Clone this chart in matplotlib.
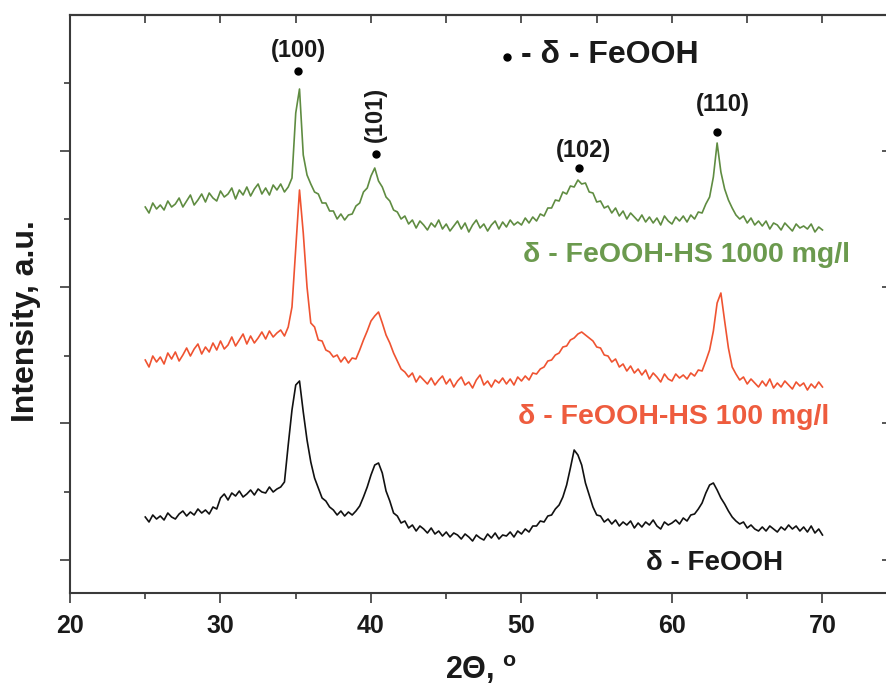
import numpy as np
import matplotlib
matplotlib.use("Agg")
import matplotlib.pyplot as plt
from matplotlib.ticker import FixedLocator, MultipleLocator

plt.rcParams['font.family'] = ['Liberation Sans', 'DejaVu Sans']
plt.rcParams['font.weight'] = 'bold'
plt.rcParams['mathtext.fontset'] = 'custom'
plt.rcParams['mathtext.rm'] = 'Liberation Sans:bold'

# scan angle, 0.25 deg step from 25 to 70
two_theta = np.arange(25.0, 70.001, 0.25)

# intensities (a.u.), one row per degree
fe_hs_1000 = [
    386, 380, 390, 384,  388, 383, 392, 386,  389, 395, 386, 392,
    398, 388, 393, 399,  391, 400, 395, 392,  402, 396, 399, 405,
    394, 403, 398, 406,  397, 404, 409, 399,  405, 398, 408, 403,
    409, 401, 406, 415,  480, 504, 438, 418,  409, 401, 399, 390,
    390, 382, 382, 374,  379, 373, 378, 379,  387, 390, 401, 405,
    417, 425, 412, 406,  396, 392, 383, 381,  374, 377, 369, 373,
    365, 372, 368, 363,  370, 366, 373, 364,  369, 362, 367, 372,
    364, 370, 361, 368,  373, 365, 369, 362,  368, 372, 364, 371,
    366, 373, 368, 371,  368, 375, 370, 376,  372, 379, 377, 385,
    385, 393, 392, 401,  399, 407, 406, 413,  409, 410, 401, 400,
    391, 392, 385, 387,  380, 385, 377, 382,  374, 380, 376, 372,
    378, 371, 376, 370,  375, 368, 377, 372,  369, 376, 372, 377,
    371, 378, 374, 381,  380, 389, 396, 416,  450, 421, 404, 393,
    385, 378, 374, 377,  370, 375, 368, 372,  367, 372, 364, 370,
    368, 363, 370, 366,  362, 369, 365, 367,  364, 369, 361, 366,
    363]

fe_hs_100 = [
    233, 226, 237, 231,  236, 229, 240, 234,  241, 232, 238, 245,
    237, 244, 249, 239,  246, 241, 250, 243,  252, 244, 248, 256,
    247, 253, 259, 249,  257, 250, 255, 261,  254, 262, 256, 260,
    263, 257, 266, 286,  345, 403, 360, 306,  270, 266, 253, 252,
    243, 241, 236, 238,  231, 236, 230, 235,  234, 243, 253, 262,
    272, 277, 281, 270,  258, 250, 240, 232,  224, 221, 216, 220,
    211, 217, 213, 209,  215, 208, 213, 217,  209, 214, 206, 212,
    216, 208, 211, 205,  213, 218, 208, 212,  206, 213, 210, 215,
    209, 214, 208, 216,  212, 217, 213, 220,  219, 224, 226, 232,
    233, 238, 240, 246,  247, 253, 255, 259,  261, 258, 255, 252,
    246, 245, 238, 237,  231, 234, 226, 229,  222, 227, 220, 224,
    218, 223, 214, 220,  216, 211, 219, 214,  212, 219, 215, 218,
    214, 220, 217, 223,  222, 232, 243, 262,  290, 300, 272, 245,
    226, 219, 213, 216,  209, 214, 210, 206,  212, 207, 214, 205,
    210, 206, 212, 208,  204, 211, 207, 210,  203, 209, 205, 211,
    206]

fe_ooh = [
    76, 71, 78, 74,  77, 73, 80, 76,  74, 79, 82, 77,
    81, 78, 84, 80,  83, 79, 86, 84,  95, 99, 93, 100,
    97, 102, 96, 99,  103, 98, 104, 101,  100, 106, 101, 104,
    106, 111, 148, 183,  208, 212, 181, 153,  131, 115, 105, 95,
    92, 86, 83, 78,  82, 77, 81, 78,  82, 87, 96, 106,
    118, 128, 130, 120,  102, 92, 80, 77,  70, 72, 65, 68,
    62, 67, 64, 60,  65, 59, 62, 57,  61, 56, 60, 58,
    54, 59, 56, 52,  58, 55, 53, 59,  55, 60, 54, 58,
    57, 61, 56, 62,  59, 64, 61, 67,  67, 72, 71, 77,
    78, 84, 88, 96,  108, 125, 143, 138,  128, 110, 98, 86,
    78, 77, 71, 74,  69, 73, 67, 71,  68, 72, 65, 70,
    66, 71, 68, 73,  67, 64, 71, 68,  70, 73, 69, 75,
    72, 78, 79, 84,  90, 100, 108, 110,  103, 95, 89, 82,
    76, 72, 69, 71,  65, 68, 64, 62,  66, 62, 67, 64,
    61, 66, 63, 68,  64, 67, 62, 66,  61, 67, 60, 64,
    58]

# reflections of delta-FeOOH
hkl = ['(100)', '(101)', '(102)', '(110)']
hkl_pos = [35.15, 40.3, 53.8, 63.0]
dot_y = [522, 439, 425, 461]
hkl_x = [35.2, 40.3, 54.15, 63.4]
hkl_y = [542, 479, 443, 489]

green = '#5f8c41'
red = '#ef5331'
axcol = '#3a3a3a'
txt = '#1a1a1a'

fig = plt.figure(figsize=(8.87, 6.88), dpi=100)
ax = fig.add_axes([70/887, 95/688, 822/887, 578/688])

ax.plot(two_theta, fe_hs_1000, color=green, lw=1.2)
ax.plot(two_theta, fe_hs_100, color=red, lw=1.2)
ax.plot(two_theta, fe_ooh, color='#111111', lw=1.2)

ax.plot(hkl_pos, dot_y, 'o', color='black', ms=5)
for i in range(len(hkl)):
    rot = 90 if hkl[i] == '(101)' else 0
    ax.text(hkl_x[i], hkl_y[i], hkl[i], ha='center', va='center', rotation=rot,
            fontsize=17, fontweight='bold', color=txt)

# legend-like note
ax.plot([49.04], [536], 'o', color='black', ms=5)
ax.text(50.0, 538, '- δ - FeOOH', ha='left', va='center', fontsize=23,
        fontweight='bold', color=txt)

ax.text(50.1, 338, 'δ - FeOOH-HS 1000 mg/l', ha='left', va='center',
        fontsize=20.5, fontweight='bold', color='#6b9a4e')
ax.text(49.8, 176, 'δ - FeOOH-HS 100 mg/l', ha='left', va='center',
        fontsize=20.5, fontweight='bold', color='#ee5c3e')
ax.text(58.3, 30, 'δ - FeOOH', ha='left', va='center',
        fontsize=20, fontweight='bold', color=txt)

ax.set_xlim(20, 74.62)
ax.set_ylim(0, 578)

ax.xaxis.set_major_locator(MultipleLocator(10))
ax.xaxis.set_minor_locator(MultipleLocator(5))
ax.yaxis.set_major_locator(FixedLocator([33, 170, 306, 442]))
ax.yaxis.set_minor_locator(FixedLocator([101, 237, 374, 510]))
ax.tick_params(which='both', direction='out', width=1.2, color=axcol,
               labelsize=18, labelcolor=txt, pad=8)
ax.tick_params(which='major', length=7)
ax.tick_params(which='minor', length=4)
ax.tick_params(axis='y', labelleft=False)

top = ax.secondary_xaxis('top')
top.xaxis.set_major_locator(MultipleLocator(5))
top.tick_params(direction='in', length=6, width=1.2, color=axcol, labeltop=False)
right = ax.secondary_yaxis('right')
right.yaxis.set_major_locator(FixedLocator([33, 170, 306, 442]))
right.tick_params(direction='in', length=7, width=1.2, color=axcol, labelright=False)

for sp in list(ax.spines.values()) + [top.spines['top'], right.spines['right']]:
    sp.set_linewidth(1.5)
    sp.set_color(axcol)

ax.set_xlabel('2Θ, $^{\\mathrm{o}}$', fontsize=22, fontweight='bold', color=txt)
ax.xaxis.set_label_coords(0.5, -0.104)
ax.set_ylabel('Intensity, a.u.', fontsize=23, fontweight='bold', color=txt)
ax.yaxis.set_label_coords(-0.035, 0.47)

fig.savefig('out.png', dpi=100)
